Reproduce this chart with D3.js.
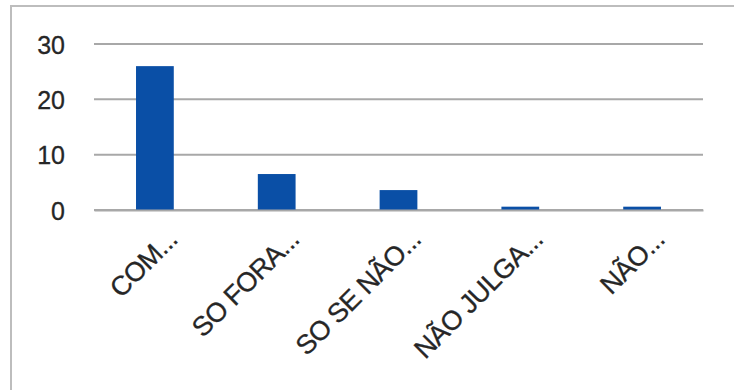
<!DOCTYPE html>
<html>
<head>
<meta charset="utf-8">
<script src="https://cdn.jsdelivr.net/npm/d3@7"></script>
<style>
  html, body { margin: 0; padding: 0; background: #fff; }
  svg { display: block; }
  text { font-family: "Liberation Sans", Arial, sans-serif; fill: #262626; }
</style>
</head>
<body>
<svg id="chart" width="734" height="390"></svg>
<script>
// Answer categories (truncated as shown on the axis) and their counts
const categories = ["COM...", "SO FORA...", "SO SE NÃO...", "NÃO JULGA...", "NÃO..."];
const values = [26, 6.5, 3.6, 0.6, 0.6];
const yTicks = [0, 10, 20, 30];

const svg = d3.select("#chart");
const plot = { left: 94, right: 703, top: 44, bottom: 210 };

// chart frame (only top and left edges fall inside the view)
svg.append("path")
  .attr("d", "M11,392 L11,6 L736,6")
  .attr("fill", "none")
  .attr("stroke", "#bdbdbd")
  .attr("stroke-width", 2);

const x = d3.scaleBand()
  .domain(categories)
  .range([plot.left, plot.right])
  .paddingInner(0.69)
  .paddingOuter(0.345);

const y = d3.scaleLinear()
  .domain([0, 30])
  .range([plot.bottom, plot.top]);

// horizontal gridlines
svg.append("g")
  .selectAll("line")
  .data(yTicks)
  .join("line")
  .attr("x1", plot.left)
  .attr("x2", plot.right)
  .attr("y1", d => y(d))
  .attr("y2", d => y(d))
  .attr("stroke", "#a8a8a8")
  .attr("stroke-width", 2);

// y axis labels
const yAxis = d3.axisLeft(y).tickValues(yTicks).tickSize(0).tickPadding(0);
const gy = svg.append("g")
  .attr("transform", `translate(${plot.left - 29},0)`)
  .call(yAxis);
gy.select(".domain").remove();
gy.selectAll("text")
  .attr("font-size", 25)
  .attr("font-family", "\"Liberation Sans\", Arial, sans-serif")
  .attr("fill", "#262626")
  .attr("stroke", "#262626")
  .attr("stroke-width", 0.3)
  .attr("dy", "0.36em");

// bars
svg.append("g")
  .selectAll("rect")
  .data(values)
  .join("rect")
  .attr("x", (d, i) => x(categories[i]))
  .attr("width", x.bandwidth())
  .attr("y", d => y(d))
  .attr("height", d => y(0) - y(d))
  .attr("fill", "#0a4fa6");

// category axis: baseline and rotated labels
const xAxis = d3.axisBottom(x).tickSize(0).tickPadding(0);
const gx = svg.append("g")
  .attr("transform", `translate(0,${plot.bottom})`)
  .call(xAxis);
gx.select(".domain")
  .attr("stroke", "#a8a8a8")
  .attr("stroke-width", 2);
gx.selectAll(".tick text")
  .attr("font-size", 27)
  .attr("font-family", "\"Liberation Sans\", Arial, sans-serif")
  .attr("fill", "#262626")
  .attr("stroke", "#262626")
  .attr("stroke-width", 0.3)
  .attr("letter-spacing", -0.6)
  .attr("text-anchor", "end")
  .attr("dy", 0)
  .attr("y", 0)
  .attr("transform", "translate(24,31) rotate(-45)");
</script>
</body>
</html>
